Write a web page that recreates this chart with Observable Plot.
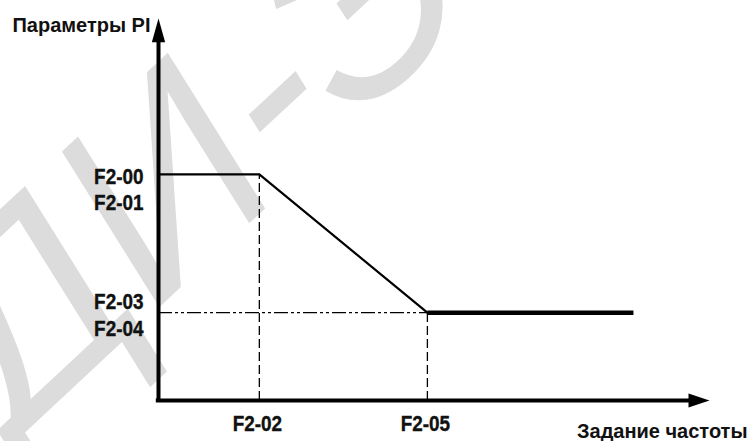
<!DOCTYPE html>
<html>
<head>
<meta charset="utf-8">
<script src="https://cdn.jsdelivr.net/npm/d3@7"></script>
<script src="https://cdn.jsdelivr.net/npm/@observablehq/plot@0.6"></script>
<style>
  html, body { margin: 0; padding: 0; background: #fff; }
  #chart svg { display: block; }
</style>
</head>
<body>
<div id="chart"></div>
<script>
// ---- data (abstract units: axis runs 0..100 on both scales) ----
const curveX = [0, 18.3, 48.8];          // start, F2-02, F2-05
const curveY = [59.2, 59.2, 23.0];       // F2-00 level, F2-00 level, F2-03 level
const tailX = [48.8, 86.2];              // F2-05 -> end
const tailY = [23.0, 23.0];
const xTickPos = [18.3, 48.8];
const xTickLabels = ["F2-02", "F2-05"];
const yTopLevel = [59.2];
const yTopLabel = ["F2-00\nF2-01"];
const yLowLevel = [23.0];
const yLowLabel = ["F2-03\nF2-04"];
const yTitle = ["Параметры PI"];
const xTitle = ["Задание частоты"];
const watermark = ["ДИ-Э"];

const curve = curveX.map((x, i) => ({x, y: curveY[i]}));
const tail = tailX.map((x, i) => ({x, y: tailY[i]}));

const arrowRight = { draw(ctx, size) { const r = Math.sqrt(size / Math.PI);
  ctx.moveTo(0, 0); ctx.lineTo(-3 * r, -r); ctx.lineTo(-3 * r, r); ctx.closePath(); } };
const arrowUp = { draw(ctx, size) { const r = Math.sqrt(size / Math.PI);
  ctx.moveTo(0, 0); ctx.lineTo(-r * 0.95, 3.4 * r); ctx.lineTo(r * 0.95, 3.4 * r); ctx.closePath(); } };

const F = "'Liberation Sans', Arial, sans-serif";
const labelStyle = {fontFamily: F, fontWeight: "bold", fontSize: 22, fill: "#111",
  stroke: "#111", strokeWidth: 0.4, paintOrder: "normal"};

const plot = Plot.plot({
  width: 749,
  height: 441,
  marginLeft: 158,
  marginRight: 40,
  marginTop: 18,
  marginBottom: 41,
  x: {domain: [0, 100], axis: null},
  y: {domain: [0, 100], axis: null},
  style: {background: "#fff"},
  marks: [
    // watermark
    Plot.text(watermark, {frameAnchor: "bottom-left", text: d => d, rotate: -43,
      fontSize: 262, fill: "#dcdcdc", fontStyle: "italic", textAnchor: "start",
      lineAnchor: "bottom", dx: -140, dy: 38, fontFamily: F}),
    // dashed guides
    Plot.ruleX(xTickPos, {x: d => d, y1: 0, y2: (d, i) => i === 0 ? curveY[1] : curveY[2],
      stroke: "black", strokeWidth: 1.3, strokeDasharray: "9,4"}),
    Plot.ruleY(yLowLevel, {y: d => d, x1: 0, x2: xTickPos[1],
      stroke: "black", strokeWidth: 1.2, strokeDasharray: "14,3,3,3,3,3"}),
    // curve
    Plot.line(curve, {x: "x", y: "y", stroke: "black", strokeWidth: 2.2}),
    Plot.line(tail, {x: "x", y: "y", stroke: "black", strokeWidth: 4.5, strokeLinecap: "butt"}),
    // axes
    Plot.ruleX([0], {y1: 0, y2: 96, stroke: "black", strokeWidth: 4}),
    Plot.ruleY([0], {x1: -0.4, x2: 97, stroke: "black", strokeWidth: 4}),
    Plot.dot([{x: 100, y: 0}], {x: "x", y: "y", symbol: arrowRight, r: 7, fill: "black", stroke: "none"}),
    Plot.dot([{x: 0, y: 100}], {x: "x", y: "y", symbol: arrowUp, r: 7, fill: "black", stroke: "none"}),
    // tick labels (narrow)
    Plot.text(xTickLabels, {x: (d, i) => xTickPos[i], y: 0, text: d => d, dy: 23, dx: -2, ...labelStyle}),
    Plot.text(yTopLabel, {x: 0, y: (d, i) => yTopLevel[i], text: d => d, dx: -15, dy: 14,
      textAnchor: "end", lineAnchor: "middle", lineHeight: 1.2, ...labelStyle}),
    Plot.text(yLowLabel, {x: 0, y: (d, i) => yLowLevel[i], text: d => d, dx: -15, dy: 1.5,
      textAnchor: "end", lineAnchor: "middle", lineHeight: 1.2, ...labelStyle}),
    // axis titles
    Plot.text(yTitle, {x: 0, y: 100, text: d => d, dx: -8, dy: 7, textAnchor: "end",
      fontFamily: F, fontWeight: "bold", fontSize: 20, fill: "#111"}),
    Plot.text(xTitle, {x: 100, y: 0, text: d => d, dx: 38, dy: 31, textAnchor: "end",
      fontFamily: F, fontWeight: "bold", fontSize: 20, fill: "#111"})
  ]
});
// condense the tick-label glyphs horizontally (narrow bold face look)
const narrow = new Set([...xTickLabels, ...yTopLabel, ...yLowLabel].map(s => s.replace(/\n/g, "")));
d3.select(plot).selectAll("text").each(function() {
  if (!narrow.has(this.textContent)) return;
  const t = this.getAttribute("transform");
  if (t) this.setAttribute("transform", t + " scale(0.86,1)");
});
document.getElementById("chart").appendChild(plot);
</script>
</body>
</html>
